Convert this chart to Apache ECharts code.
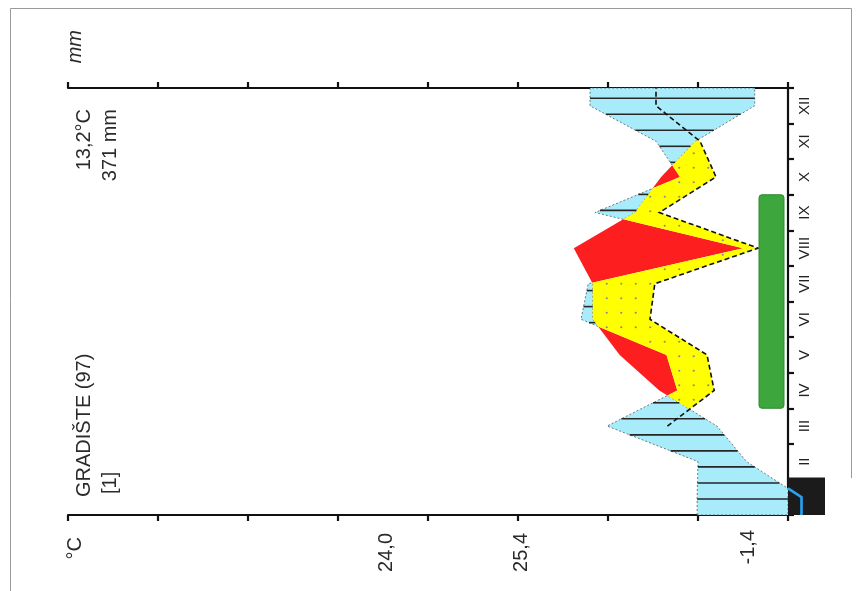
<!DOCTYPE html>
<html>
<head>
<meta charset="utf-8">
<script src="https://cdn.jsdelivr.net/npm/echarts@6/dist/echarts.min.js"></script>
<style>
  html, body { margin: 0; padding: 0; background: #fff; }
  #chart { width: 860px; height: 591px; }
</style>
</head>
<body>
<div id="chart"></div>
<script>
// Walter–Lieth climate diagram, drawn turned a quarter turn (months run upward).
const months = ['I', 'II', 'III', 'IV', 'V', 'VI', 'VII', 'VIII', 'IX', 'X', 'XI', 'XII'];
const temperature = [-1.5, 4.6, 7.9, 14.3, 18.7, 21.7, 21.7, 23.8, 17.0, 14.1, 10.3, 3.7];      // °C
const precipitation = [20.2, 20.0, 40.2, 24.6, 27.0, 46.0, 44.4, 10.0, 42.9, 24.0, 29.3, 44.0]; // mm
const tempTicks = [0, 10, 20, 30, 40, 50, 60, 70, 80];
const frostMonths = [0];               // months with certain frost
const vegetationMonths = [3, 8];       // first and last month of the vegetation period
const stationName = 'GRADIŠTE (97)';
const stationRef = '[1]';
const annualTemp = '13,2°C';
const annualPrecip = '371 mm';
const tempNotes = ['24,0', '25,4', '-1,4'];

const FONT = '"Liberation Sans", Arial, sans-serif';
const n = months.length;

// precipitation on two scales: 10 °C = 20 mm and 10 °C = 30 mm
const precipHalf = precipitation.map(p => p / 2);
const precipThird = precipitation.map(p => p / 3);
const zero = months.map(() => 0);

function at(arr, m) {
  if (m <= 0) return arr[0];
  if (m >= n - 1) return arr[n - 1];
  const i = Math.floor(m), t = m - i;
  return arr[i] * (1 - t) + arr[i + 1] * t;
}

// knots at month centres plus the two outer edges, refined at every crossing
function refinedKnots() {
  const base = [-0.5];
  for (let i = 0; i < n; i++) base.push(i);
  base.push(n - 0.5);
  const pairs = [[temperature, precipHalf], [temperature, precipThird], [temperature, zero]];
  const out = base.slice();
  for (let k = 0; k < base.length - 1; k++) {
    const m0 = base[k], m1 = base[k + 1];
    pairs.forEach(([f, g]) => {
      const d0 = at(f, m0) - at(g, m0), d1 = at(f, m1) - at(g, m1);
      if (d0 * d1 < 0) out.push(m0 + (m1 - m0) * d0 / (d0 - d1));
    });
  }
  out.sort((a, b) => a - b);
  return out.filter((v, i) => i === 0 || v - out[i - 1] > 1e-9);
}

function renderDiagram(params, api) {
  const x0 = api.coord([0, 0])[0];
  const x10 = api.coord([10, 0])[0];
  const c0 = api.coord([0, 0])[1];
  const c1 = api.coord([0, 1])[1];
  const xOf = v => api.coord([v, 0])[0];
  const yOf = m => c0 + (c1 - c0) * m;
  const pt = (v, m) => [xOf(v), yOf(m)];

  const knots = refinedKnots();
  const T = knots.map(m => at(temperature, m));
  const A = knots.map(m => at(precipHalf, m));
  const B = knots.map(m => at(precipThird, m));

  // polygons covering every stretch where upper > lower
  function between(up, lo) {
    const polys = [];
    let run = null;
    for (let k = 0; k < knots.length - 1; k++) {
      const d0 = up[k] - lo[k], d1 = up[k + 1] - lo[k + 1];
      const ok = d0 >= -1e-9 && d1 >= -1e-9 && Math.max(d0, d1) > 1e-9;
      if (ok) {
        if (!run) run = [k];
        run.push(k + 1);
      } else if (run) { polys.push(run); run = null; }
    }
    if (run) polys.push(run);
    return polys.map(r => r.map(k => pt(up[k], knots[k])).concat(r.slice().reverse().map(k => pt(lo[k], knots[k]))));
  }

  const children = [];
  const Tpos = T.map(v => Math.max(v, 0));
  const humid = between(A, Tpos);
  const arid = between(T, A);
  const lowerOfTA = T.map((v, k) => Math.min(v, A[k]));
  const dry = between(lowerOfTA, B);

  humid.forEach(p => children.push({
    type: 'polygon', shape: { points: p },
    style: { fill: '#a8ecfb', stroke: 'rgba(70,70,70,0.7)', lineWidth: 1, lineDash: [2, 2] }
  }));
  arid.forEach(p => children.push({ type: 'polygon', shape: { points: p }, style: { fill: '#fd1f1f' } }));
  dry.forEach(p => children.push({ type: 'polygon', shape: { points: p }, style: { fill: '#ffff00' } }));

  // dot texture on the dry season
  const rect = params.coordSys;
  const step = 14.5;
  for (let px = x0 - step / 2; px > rect.x; px -= step) {
    for (let py = rect.y + step / 2; py < rect.y + rect.height; py += step) {
      const v = (px - x0) / (x10 - x0) * 10;
      const m = (py - c0) / (c1 - c0);
      const lo = at(precipThird, m);
      const hi = Math.min(at(temperature, m), at(precipHalf, m));
      if (v > lo + 0.35 && v < hi - 0.35) {
        children.push({ type: 'circle', shape: { cx: px, cy: py, r: 1.1 }, style: { fill: '#8c8c8c' } });
      }
    }
  }

  // hatching of the humid season
  const hs = 0.4505;
  for (let m = -0.5 + hs; m < n - 0.5; m += hs) {
    const lo = Math.max(at(temperature, m), 0);
    const hi = at(precipHalf, m);
    if (hi > lo) {
      children.push({
        type: 'line', shape: { x1: xOf(lo), y1: yOf(m), x2: xOf(hi), y2: yOf(m) },
        style: { stroke: '#262626', lineWidth: 1.6 }
      });
    }
  }

  // precipitation on the 1:3 scale, dashed
  const dashPts = [];
  for (let i = 2; i < n; i++) dashPts.push(pt(precipThird[i], i));
  dashPts.push(pt(precipThird[n - 1], n - 0.5));
  children.push({
    type: 'polyline', shape: { points: dashPts },
    style: { stroke: '#111', lineWidth: 1.6, lineDash: [5, 3], fill: null }
  });

  // vegetation period bar
  const vy1 = yOf(vegetationMonths[1] + 0.5), vy0 = yOf(vegetationMonths[0] - 0.5);
  children.push({
    type: 'rect',
    shape: { x: x0 - 29, y: vy1, width: 25, height: vy0 - vy1, r: 3 },
    style: { fill: '#3da63d', stroke: '#2c8a2c', lineWidth: 1 }
  });

  // frost months
  frostMonths.forEach(i => {
    const ya = yOf(i + 0.5), yb = yOf(i - 0.5);
    children.push({
      type: 'rect', shape: { x: x0, y: ya - 2, width: 37, height: yb - ya + 2 },
      style: { fill: '#1b1b1b' }
    });
  });

  // temperature below freezing
  let frostRun = [];
  const runs = [];
  for (let k = 0; k < knots.length; k++) {
    if (T[k] <= 1e-9) frostRun.push(pt(T[k], knots[k]));
    else if (frostRun.length) { runs.push(frostRun); frostRun = []; }
  }
  if (frostRun.length) runs.push(frostRun);
  runs.forEach(r => {
    if (r.length > 1) children.push({
      type: 'polyline', shape: { points: r },
      style: { stroke: '#2aa2f0', lineWidth: 2.6, fill: null }
    });
  });

  return { type: 'group', children };
}

const axisLine = { show: true, onZero: false, lineStyle: { color: '#111', width: 2.2 } };
const axisTick = { show: true, length: 6, lineStyle: { color: '#111', width: 2.2 } };

const chart = echarts.init(document.getElementById('chart'), null, { renderer: 'canvas' });

const textStyle = (txt, size, extra) => Object.assign({
  text: txt, fill: '#2a2a2a', fontSize: size, fontFamily: FONT
}, extra || {});

chart.setOption({
  animation: false,
  backgroundColor: '#fff',
  grid: { left: 68, right: 72, top: 88, bottom: 76 },
  xAxis: [0, 1].map(idx => ({
    type: 'value', min: tempTicks[0], max: tempTicks[tempTicks.length - 1],
    interval: tempTicks[1] - tempTicks[0], inverse: true,
    position: idx === 0 ? 'bottom' : 'top',
    axisLine, axisTick, axisLabel: { show: false }, splitLine: { show: false }
  })),
  yAxis: {
    type: 'category', data: months, position: 'right', boundaryGap: true,
    axisLine, axisTick: { show: true, length: 6, lineStyle: { color: '#111', width: 2.2 } },
    axisLabel: {
      rotate: 90, fontSize: 15, margin: 9, fontFamily: FONT,
      color: (v, i) => frostMonths.includes(i) ? '#dcdcdc' : '#222'
    },
    splitLine: { show: false }
  },
  series: [{
    type: 'custom', coordinateSystem: 'cartesian2d', clip: false,
    renderItem: renderDiagram, data: [[0, 0]], z: 1
  }],
  graphic: [
    { type: 'line', shape: { x1: 10.5, y1: 8.5, x2: 851.5, y2: 8.5 }, style: { stroke: '#9a9a9a', lineWidth: 1 } },
    { type: 'line', shape: { x1: 10.5, y1: 8.5, x2: 10.5, y2: 591 }, style: { stroke: '#9a9a9a', lineWidth: 1 } },
    { type: 'line', shape: { x1: 851.5, y1: 8.5, x2: 851.5, y2: 478 }, style: { stroke: '#9a9a9a', lineWidth: 1 } },
    { type: 'text', x: 75, y: 30, rotation: Math.PI / 2, style: textStyle('mm', 20, { align: 'right', verticalAlign: 'middle', fontStyle: 'italic' }) },
    { type: 'text', x: 75, y: 537, rotation: Math.PI / 2, style: textStyle('°C', 20, { align: 'right', verticalAlign: 'middle' }) },
    { type: 'text', x: 386, y: 533, rotation: Math.PI / 2, style: textStyle(tempNotes[0], 20, { align: 'right', verticalAlign: 'middle' }) },
    { type: 'text', x: 521, y: 533, rotation: Math.PI / 2, style: textStyle(tempNotes[1], 20, { align: 'right', verticalAlign: 'middle' }) },
    { type: 'text', x: 748, y: 530, rotation: Math.PI / 2, style: textStyle(tempNotes[2], 20, { align: 'right', verticalAlign: 'middle' }) },
    { type: 'text', x: 84, y: 497, rotation: Math.PI / 2, style: textStyle(stationName, 20, { align: 'left', verticalAlign: 'middle' }) },
    { type: 'text', x: 110, y: 494, rotation: Math.PI / 2, style: textStyle(stationRef, 20, { align: 'left', verticalAlign: 'middle' }) },
    { type: 'text', x: 84, y: 109, rotation: Math.PI / 2, style: textStyle(annualTemp, 20, { align: 'right', verticalAlign: 'middle' }) },
    { type: 'text', x: 110, y: 109, rotation: Math.PI / 2, style: textStyle(annualPrecip, 20, { align: 'right', verticalAlign: 'middle' }) }
  ]
});
</script>
</body>
</html>
